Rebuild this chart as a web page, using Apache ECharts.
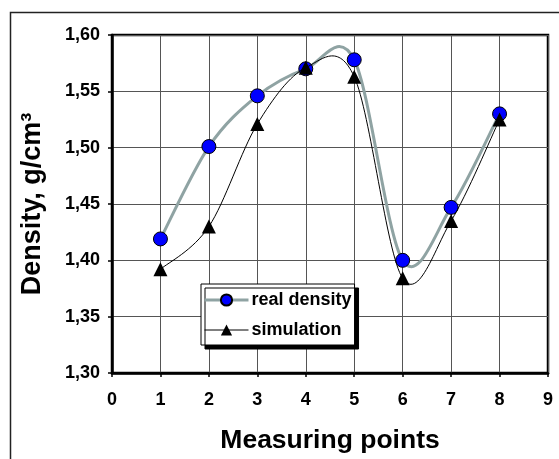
<!DOCTYPE html>
<html>
<head>
<meta charset="utf-8">
<script src="https://cdn.jsdelivr.net/npm/echarts@6/dist/echarts.min.js"></script>
<style>
html,body{margin:0;padding:0;background:#fff;}
#c{width:559px;height:459px;}
</style>
</head>
<body>
<div id="c"></div>
<script>
const points = [1, 2, 3, 4, 5, 6, 7, 8];
const realDensity = [1.419, 1.501, 1.546, 1.570, 1.578, 1.400, 1.447, 1.530];
const simulation = [1.392, 1.430, 1.521, 1.571, 1.563, 1.384, 1.435, 1.525];
const seriesNames = ['real density', 'simulation'];
const xTitle = 'Measuring points';
const yTitle = 'Density, g/cm³';

const FONT = '"Liberation Sans", Arial, sans-serif';
const chart = echarts.init(document.getElementById('c'), null, {renderer: 'canvas'});

const pair = (xs, ys) => xs.map((x, i) => [x, ys[i]]);

// Excel-like smoothed line: Catmull-Rom through the data points, converted to pixels by the axes
function smoothCurve(xs, ys, color, width) {
  return function (params, api) {
    if (params.dataIndex !== 0) return null;
    const p = xs.map((x, i) => api.coord([x, ys[i]]));
    const n = p.length;
    let d = 'M' + p[0][0] + ',' + p[0][1];
    for (let i = 0; i < n - 1; i++) {
      const p0 = p[Math.max(i - 1, 0)], p1 = p[i], p2 = p[i + 1], p3 = p[Math.min(i + 2, n - 1)];
      const c1 = [p1[0] + (p2[0] - p0[0]) / 6, p1[1] + (p2[1] - p0[1]) / 6];
      const c2 = [p2[0] - (p3[0] - p1[0]) / 6, p2[1] - (p3[1] - p1[1]) / 6];
      d += 'C' + c1[0] + ',' + c1[1] + ',' + c2[0] + ',' + c2[1] + ',' + p2[0] + ',' + p2[1];
    }
    return {
      type: 'path',
      shape: {pathData: d},
      style: {fill: null, stroke: color, lineWidth: width, lineJoin: 'round'}
    };
  };
}

chart.setOption({
  animation: false,
  backgroundColor: '#fff',
  textStyle: {fontFamily: FONT},
  graphic: [{
    type: 'rect', left: 8, top: 10, z: -10,
    shape: {width: 600, height: 500},
    style: {fill: 'none', stroke: '#222', lineWidth: 1.5}
  }],
  grid: {left: 112, top: 35, right: 11, bottom: 86, show: true, borderColor: '#000', borderWidth: 2.5, backgroundColor: 'transparent'},
  xAxis: {
    type: 'value', min: 0, max: 9, interval: 1,
    name: xTitle, nameLocation: 'middle', nameGap: 54,
    nameTextStyle: {fontSize: 26.5, fontWeight: 'bold', color: '#000', fontFamily: FONT},
    axisLine: {show: true, onZero: false, lineStyle: {color: '#000', width: 2.5}},
    axisTick: {show: true, inside: false, length: 4, lineStyle: {color: '#000', width: 1.5}},
    axisLabel: {margin: 18, fontSize: 18, fontWeight: 'bold', color: '#000', fontFamily: FONT},
    splitLine: {show: true, lineStyle: {color: '#555', width: 1}}
  },
  yAxis: {
    type: 'value', min: 1.30, max: 1.60, interval: 0.05,
    name: yTitle, nameLocation: 'middle', nameGap: 66, nameRotate: 90,
    nameTextStyle: {fontSize: 27, fontWeight: 'bold', color: '#000', fontFamily: FONT},
    axisLine: {show: true, onZero: false, lineStyle: {color: '#000', width: 2.5}},
    axisTick: {show: true, inside: false, length: 4, lineStyle: {color: '#000', width: 1.5}},
    axisLabel: {margin: 12, fontSize: 18, fontWeight: 'bold', color: '#000', fontFamily: FONT,
      formatter: v => v.toFixed(2).replace('.', ',')},
    splitLine: {show: true, lineStyle: {color: '#555', width: 1}}
  },
  legend: {
    orient: 'vertical', left: 201, top: 284,
    padding: [7, 3, 6, 2], itemGap: 12,
    itemWidth: 44, itemHeight: 14,
    backgroundColor: '#fff', borderColor: '#000', borderWidth: 1,
    shadowColor: '#000', shadowBlur: 0, shadowOffsetX: 4, shadowOffsetY: 4,
    textStyle: {fontSize: 18, fontWeight: 'bold', color: '#000', fontFamily: FONT, padding: [0, 0, 0, -2]},
    data: [
      {name: seriesNames[0], lineStyle: {color: '#8fa3a3', width: 3, opacity: 1}},
      {name: seriesNames[1], lineStyle: {color: '#000', width: 1, opacity: 1}}
    ]
  },
  series: [{
    name: seriesNames[0] + ' curve', type: 'custom', z: 2,
    data: pair(points, realDensity), encode: {x: 0, y: 1},
    renderItem: smoothCurve(points, realDensity, '#8fa3a3', 3)
  }, {
    name: seriesNames[0], type: 'line', z: 3,
    data: pair(points, realDensity),
    symbol: 'circle', symbolSize: 14,
    lineStyle: {color: '#8fa3a3', width: 3, opacity: 0},
    itemStyle: {color: '#0000ff', borderColor: '#000', borderWidth: 1}
  }, {
    name: seriesNames[1] + ' curve', type: 'custom', z: 4,
    data: pair(points, simulation), encode: {x: 0, y: 1},
    renderItem: smoothCurve(points, simulation, '#000', 1)
  }, {
    name: seriesNames[1], type: 'line', z: 5,
    data: pair(points, simulation),
    symbol: 'triangle', symbolSize: 14,
    lineStyle: {color: '#000', width: 1, opacity: 0},
    itemStyle: {color: '#000', borderColor: '#000', borderWidth: 0}
  }]
});
</script>
</body>
</html>
